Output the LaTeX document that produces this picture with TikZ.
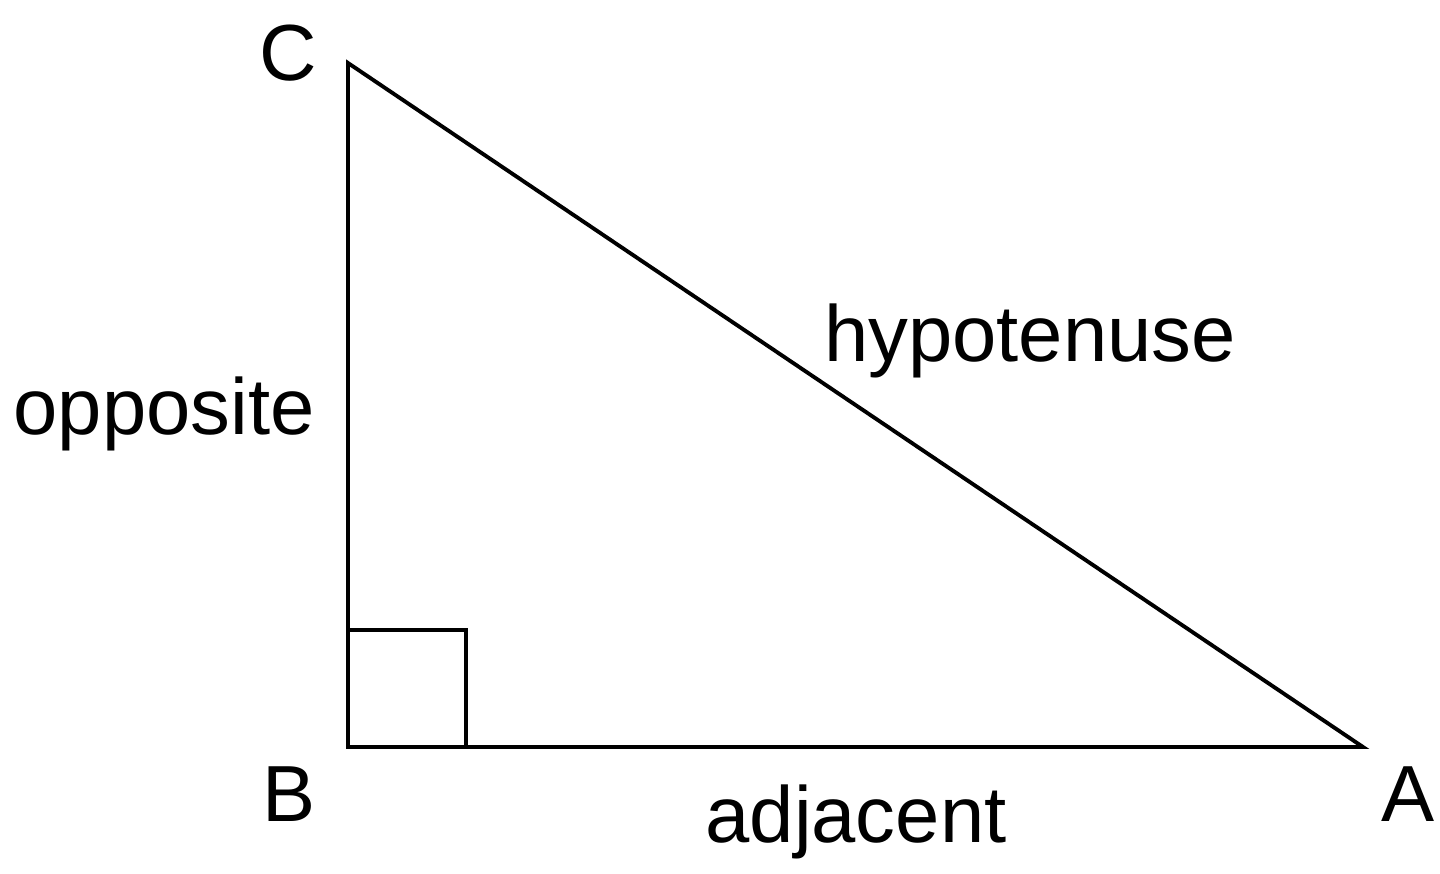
\documentclass[tikz,border=0pt]{standalone}
\usepackage{fontspec}
\setmainfont{Liberation Sans}

\begin{document}
\begin{tikzpicture}[x=0.02cm, y=-0.02cm, line width=2.2pt,
  lbl/.style={anchor=base, inner sep=0pt, font=\fontsize{45.3}{54}\selectfont}]

\useasboundingbox (0,0) rectangle (1440,874);

\coordinate (B) at (348,747);
\coordinate (C) at (348,63);
\coordinate (A) at (1363,747);

\draw [line join=miter] (B) -- (A) -- (C) -- cycle;
\draw (348,630) -- (466,630) -- (466,747);

\node [lbl] (labC) at (288,81) {C};
\node [lbl] (labB) at (289,821) {B};
\node [lbl] (labA) at (1408,821) {A};

\node [lbl] (opp) at (164,435) {opposite};
\node [lbl] (hyp) at (1030,362) {hypotenuse};
\node [lbl] (adj) at (856,842) {adjacent};

\end{tikzpicture}
\end{document}
